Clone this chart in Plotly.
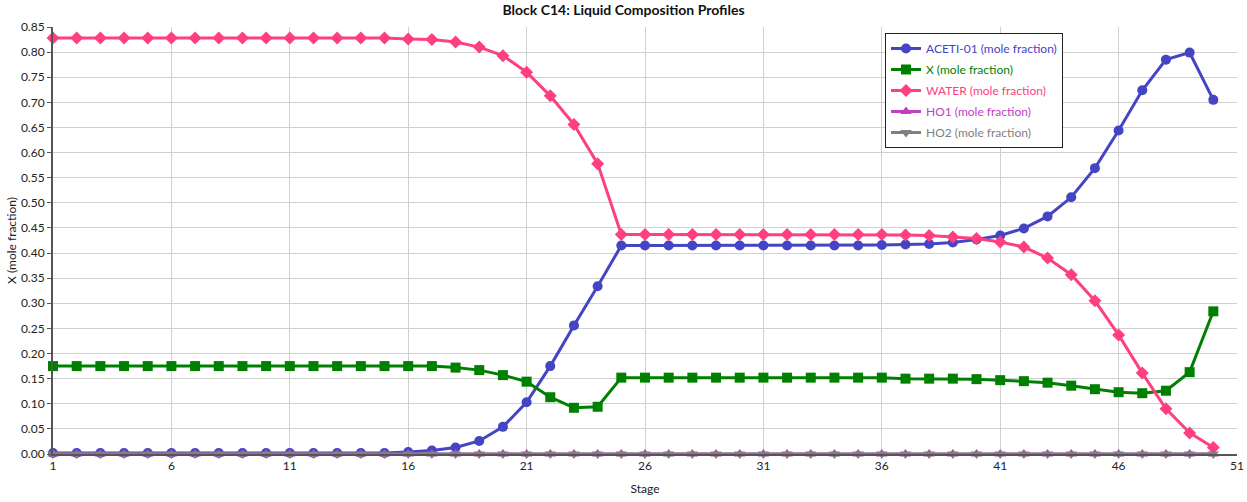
import plotly.graph_objects as go

stages = list(range(1, 51))

aceti = [0.002]*15 + [0.004, 0.007, 0.013, 0.026, 0.054, 0.103, 0.175, 0.256, 0.334, 0.415,
         0.415, 0.415, 0.415, 0.415, 0.415, 0.415, 0.415, 0.415, 0.415, 0.415,
         0.416, 0.417, 0.418, 0.421, 0.427, 0.435, 0.449, 0.473, 0.511, 0.569,
         0.644, 0.724, 0.785, 0.799, 0.705]
xcomp = [0.175]*17 + [0.172, 0.167, 0.157, 0.144, 0.113, 0.092, 0.094, 0.152,
         0.152, 0.152, 0.152, 0.152, 0.152, 0.152, 0.152, 0.152, 0.152, 0.152, 0.152,
         0.150, 0.150, 0.150, 0.149, 0.147, 0.145, 0.142, 0.136, 0.129,
         0.123, 0.121, 0.126, 0.163, 0.284]
water = [0.828]*15 + [0.826, 0.825, 0.820, 0.810, 0.793, 0.760, 0.713, 0.656, 0.578, 0.437,
         0.437, 0.437, 0.437, 0.437, 0.437, 0.437, 0.437, 0.437, 0.437, 0.437,
         0.437, 0.436, 0.435, 0.432, 0.429, 0.422, 0.412, 0.390, 0.357, 0.305,
         0.237, 0.161, 0.090, 0.042, 0.013]
ho1 = [0.0]*50
ho2 = [0.0]*50

names = ["ACETI-01 (mole fraction)", "X (mole fraction)", "WATER (mole fraction)",
         "HO1 (mole fraction)", "HO2 (mole fraction)"]
colors = ["#4444C4", "#008000", "#FF4080", "#C040C0", "#808080"]
symbols = ["circle", "square", "diamond", "triangle-up", "triangle-down"]
series = [aceti, xcomp, water, ho1, ho2]

x_ticks = list(range(1, 52, 5))
y_ticks = [round(i * 0.05, 2) for i in range(18)]

FONT = "Lato, Open Sans, sans-serif"

fig = go.Figure()
for i, (name, col, sym, ys) in enumerate(zip(names, colors, symbols, series)):
    fig.add_trace(go.Scatter(
        x=stages, y=ys, mode="lines+markers",
        name=f'<span style="color:{col}">{name}</span>',
        legendgroup=f"g{i}",
        line=dict(color=col, width=3),
        marker=dict(symbol=sym, size=10, color=col),
        cliponaxis=False,
    ))

fig.update_layout(
    width=1247, height=502,
    margin=dict(l=53, r=10, t=27, b=48),
    paper_bgcolor="white", plot_bgcolor="white",
    font=dict(family=FONT, size=12, color="#222222"),
    title=dict(text="<b>Block C14: Liquid Composition Profiles</b>",
               x=0.5, xanchor="center", y=0.99, yanchor="top",
               font=dict(family=FONT, size=14, color="#111111")),
    showlegend=True,
    legend=dict(x=0.7027, y=0.986, xanchor="left", yanchor="top",
                bgcolor="white", bordercolor="#222222", borderwidth=1,
                font=dict(family=FONT, size=12), tracegroupgap=2,
                itemwidth=30),
    xaxis=dict(range=[1, 51], tickvals=x_ticks, ticktext=[str(v) for v in x_ticks],
               automargin=False,
               showgrid=True, gridcolor="#D0D0D0", gridwidth=1,
               showline=True, linecolor="#555555", linewidth=2,
               ticks="", zeroline=False,
               title=dict(text="Stage", standoff=12, font=dict(family=FONT, size=12))),
    yaxis=dict(range=[0, 0.85], tickvals=y_ticks, ticktext=[f"{v:.2f}" for v in y_ticks],
               automargin=False,
               showgrid=True, gridcolor="#D0D0D0", gridwidth=1,
               showline=True, linecolor="#555555", linewidth=2,
               ticks="outside", ticklen=4, tickcolor="#555555",
               zeroline=False,
               title=dict(text="X (mole fraction)", standoff=2, font=dict(family=FONT, size=12))),
)

fig.write_html(
    "out.html",
    config={"displayModeBar": False},
    post_script="document.body.style.margin='0';document.body.style.overflow='hidden';",
)
